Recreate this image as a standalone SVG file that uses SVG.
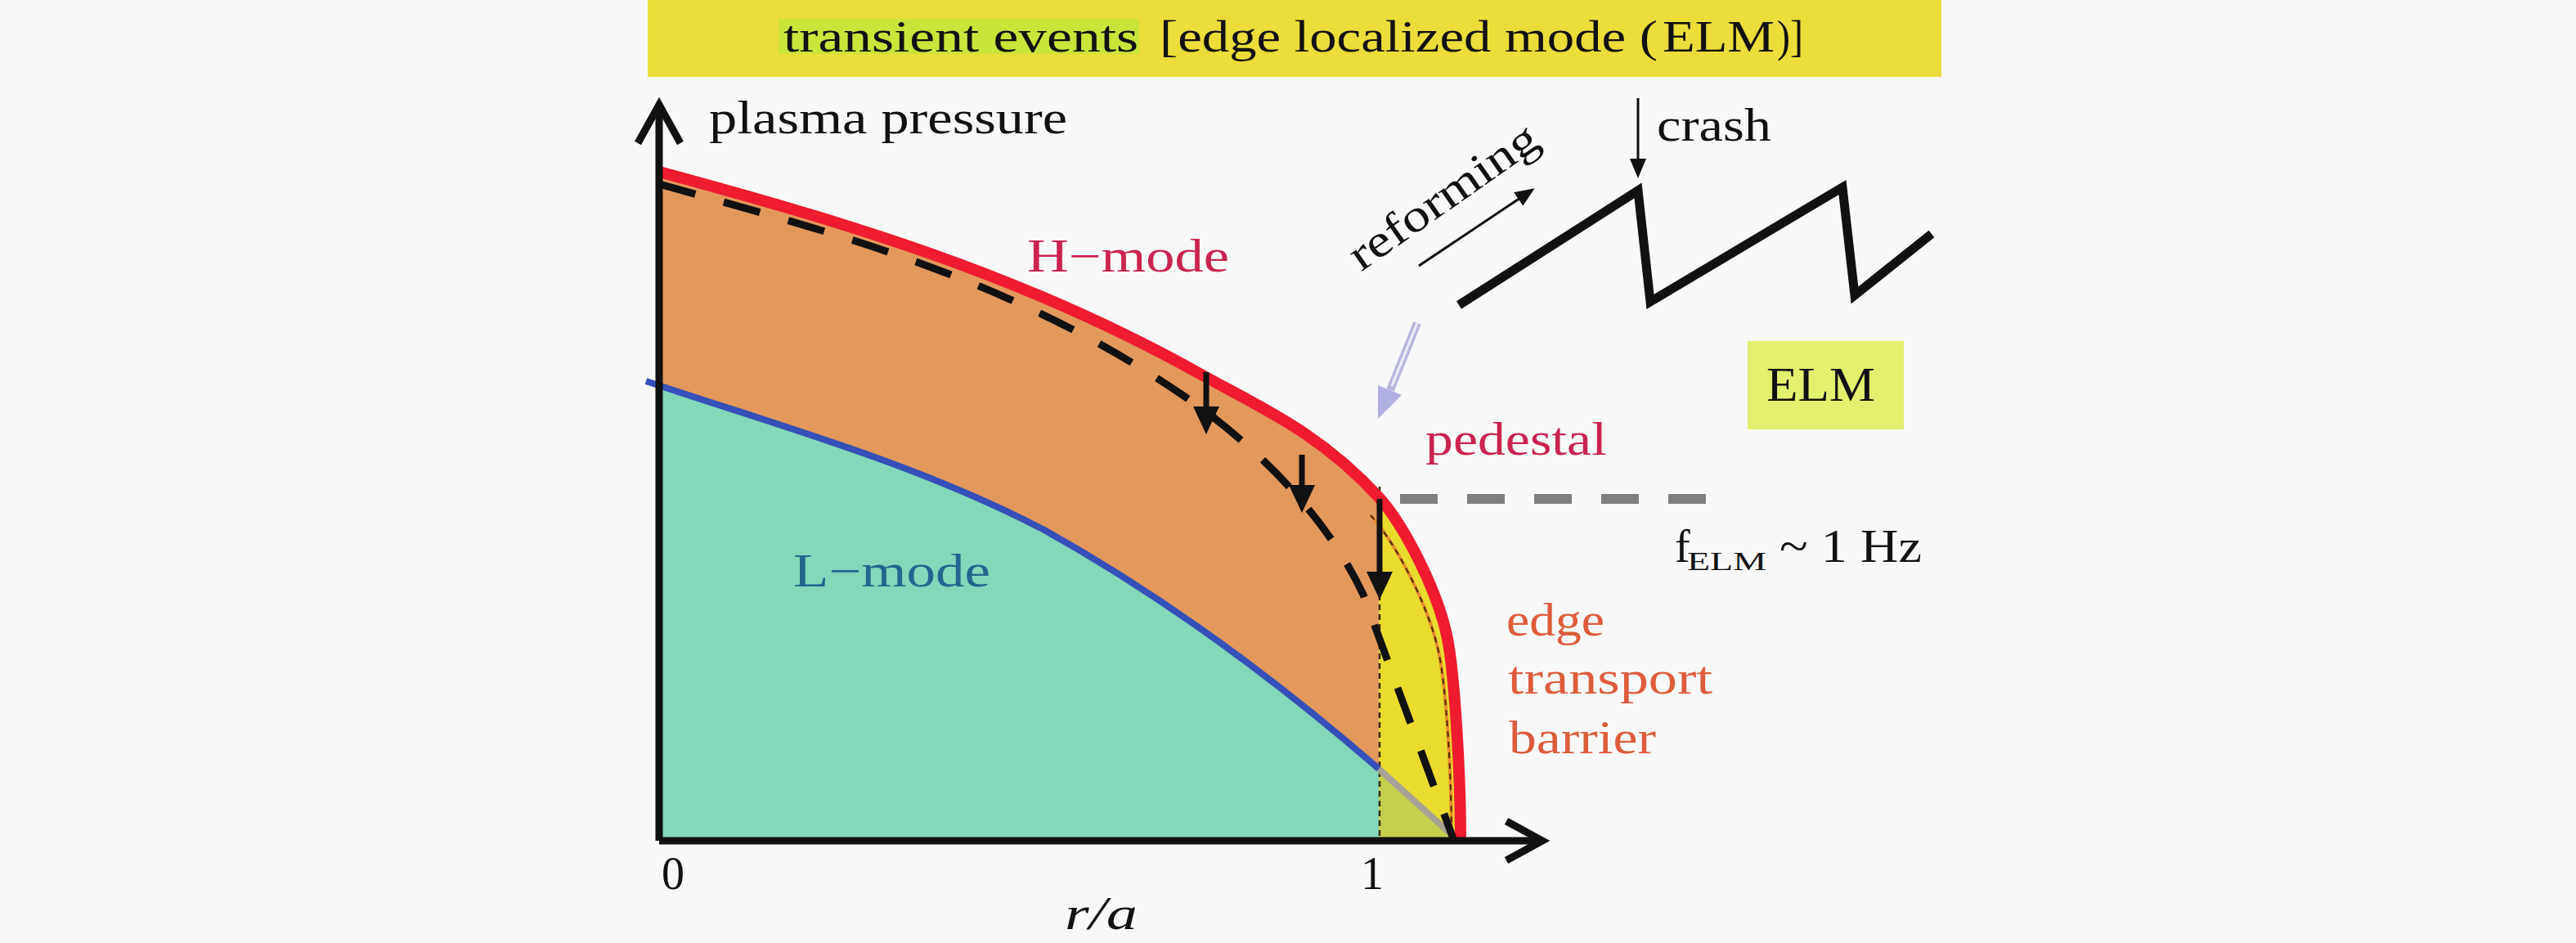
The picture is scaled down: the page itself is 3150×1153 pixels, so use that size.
<svg xmlns="http://www.w3.org/2000/svg" width="3150" height="1153" viewBox="0 0 3150 1153">
<style>
text{font-family:"Liberation Serif","Times New Roman",serif;font-size:56px;fill:#111}
.ban{font-size:54px}
.hm{fill:#c9244f}
.lm{fill:#23668e}
.etb{fill:#dd5c3c}
</style>
<defs>
<marker id="headBig" viewBox="0 0 34 32" refX="14" refY="16" markerWidth="34" markerHeight="32" markerUnits="userSpaceOnUse" orient="auto">
<path d="M0,0 L34,16 L0,32 Z" fill="#111"/>
</marker>
<marker id="headSmall" viewBox="0 0 24 20" refX="10" refY="10" markerWidth="24" markerHeight="20" markerUnits="userSpaceOnUse" orient="auto">
<path d="M0,0 L24,10 L0,20 Z" fill="#111"/>
</marker>
</defs>
<rect width="3150" height="1153" fill="#f8f8f8"/>

<g id="banner">
<rect x="792" y="0" width="1582" height="94" fill="#ebdd3a"/>
<rect x="952" y="23" width="441" height="43" fill="#c9e53a"/>
<text class="ban" x="958" y="63" textLength="434" lengthAdjust="spacingAndGlyphs" fill="#4d5a26">transient events</text>
<text class="ban" x="1418" y="63" textLength="609" lengthAdjust="spacingAndGlyphs" fill="#6a4c14">[edge localized mode (</text>
<text class="ban" x="2033" y="63" textLength="137" lengthAdjust="spacingAndGlyphs" fill="#d42a22">ELM</text>
<text class="ban" x="2173" y="63" textLength="32" lengthAdjust="spacingAndGlyphs" fill="#6a4c14">)]</text>
</g>

<g id="regions">
<path id="orange-region" d="M806,210 C1027,270 1248,334 1469,458 C1541,498 1614,529 1686,608 C1716,641 1758,721 1770,781 C1778,821 1786,940 1786,1028 L806,1028 Z" fill="#e3985c"/>
<path id="yellow-region" d="M1686,608 C1716,641 1758,721 1770,781 C1778,821 1786,940 1786,1028 L1686,1028 Z" fill="#e9dc2e"/>
<path id="teal-region" d="M790,466 C950,520 1120,566 1277,648 C1413,724 1550,822 1686,940 L1686,1028 L806,1028 L806,472 Z" fill="#82d8b9"/>
<path id="olive-region" d="M1686,940 L1782,1028 L1686,1028 Z" fill="#c5cf4e"/>
<path d="M1676,630 C1706,663 1748,741 1760,801 C1768,841 1775,940 1775,1028" fill="none" stroke="#e88a2a" stroke-width="4"/>
<path d="M1676,630 C1706,663 1748,741 1760,801 C1768,841 1775,940 1775,1028" fill="none" stroke="#4a2a08" stroke-width="2" stroke-dasharray="7 6"/>
<line x1="1687" y1="595" x2="1687" y2="1028" stroke="#3a2a08" stroke-width="2.5" stroke-dasharray="7 5"/>
<line x1="1686" y1="1028" x2="1782" y2="1028" stroke="#3a2a08" stroke-width="3" stroke-dasharray="6 4"/>
</g>

<g id="curves">
<line id="blue-tail" x1="1686" y1="940" x2="1780" y2="1025" stroke="#a6a394" stroke-width="8"/>
<path id="L-mode-curve" d="M790,466 C950,520 1120,566 1277,648 C1413,724 1550,822 1686,940" fill="none" stroke="#3550b8" stroke-width="8"/>
<path id="H-mode-curve" d="M806,210 C1027,270 1248,334 1469,458 C1541,498 1614,529 1686,608 C1716,641 1758,721 1770,781 C1778,821 1786,940 1786,1028" fill="none" stroke="#ee1c2e" stroke-width="14"/>
<path id="ELM-curve" d="M806,225 C1019,285 1233,338 1446,483 C1520,533 1617,620 1667,727 L1778,1028" fill="none" stroke="#111" stroke-width="9" stroke-dasharray="46 36"/>
</g>

<g id="connectors">
<line x1="1475" y1="455" x2="1475" y2="511" stroke="#111" stroke-width="7" marker-end="url(#headBig)"/>
<line x1="1592" y1="556" x2="1592" y2="607" stroke="#111" stroke-width="7" marker-end="url(#headBig)"/>
<line x1="1687" y1="610" x2="1687" y2="713" stroke="#111" stroke-width="7" marker-end="url(#headBig)"/>
<line x1="2003" y1="120" x2="2003" y2="204" stroke="#111" stroke-width="3" marker-end="url(#headSmall)"/>
<line x1="1735" y1="325" x2="1865" y2="238" stroke="#111" stroke-width="3" marker-end="url(#headSmall)"/>
<g id="lavender-arrow">
<line x1="1733" y1="395" x2="1700" y2="477" stroke="#b8b8de" stroke-width="10"/>
<line x1="1733" y1="395" x2="1702" y2="472" stroke="#eeeef4" stroke-width="3"/>
<polygon points="1685,512 1714,483 1685,471" fill="#b0b0e0"/>
</g>
<line id="pedestal-level" x1="1712" y1="610" x2="2092" y2="610" stroke="#7f7f7f" stroke-width="12" stroke-dasharray="46 36"/>
</g>

<g id="sawtooth">
<polyline points="1784,373 2003,233 2018,369 2253,229 2268,361 2362,286" fill="none" stroke="#111" stroke-width="11" stroke-linejoin="miter"/>
</g>

<g id="axes" fill="none" stroke="#111" stroke-width="9">
<line x1="806" y1="1028" x2="806" y2="128"/>
<polyline points="780,175 806,128 832,175" stroke-linejoin="miter"/>
<line x1="806" y1="1028" x2="1886" y2="1028"/>
<polyline points="1842,1004 1886,1028 1842,1052" stroke-linejoin="miter"/>
</g>

<g id="labels">
<text x="867" y="163" textLength="438" lengthAdjust="spacingAndGlyphs">plasma pressure</text>
<text class="hm" x="1256" y="332" textLength="247" lengthAdjust="spacingAndGlyphs">H−mode</text>
<text class="lm" x="970" y="717" textLength="241" lengthAdjust="spacingAndGlyphs">L−mode</text>
<text class="hm" x="1743" y="556" textLength="222" lengthAdjust="spacingAndGlyphs">pedestal</text>
<text class="etb" x="1842" y="777" textLength="120" lengthAdjust="spacingAndGlyphs">edge</text>
<text class="etb" x="1844" y="848" textLength="250" lengthAdjust="spacingAndGlyphs">transport</text>
<text class="etb" x="1845" y="921" textLength="180" lengthAdjust="spacingAndGlyphs">barrier</text>
<text x="2026" y="172" textLength="140" lengthAdjust="spacingAndGlyphs">crash</text>
<text transform="translate(1775,255) rotate(-35)" text-anchor="middle" textLength="270" lengthAdjust="spacingAndGlyphs">reforming</text>
<text x="2048" y="687">f</text>
<text x="2063" y="697" textLength="97" lengthAdjust="spacingAndGlyphs" style="font-size:32px">ELM</text>
<text x="2176" y="687" textLength="174" lengthAdjust="spacingAndGlyphs">~ 1 Hz</text>
<text x="809" y="1087">0</text>
<text x="1664" y="1087">1</text>
<text x="1302" y="1136" font-style="italic" textLength="89" lengthAdjust="spacingAndGlyphs">r/a</text>
</g>

<g id="elm-box">
<rect x="2137" y="417" width="191" height="108" fill="#e3ef6e"/>
<text x="2160" y="490" textLength="133" lengthAdjust="spacingAndGlyphs" style="font-size:60px">ELM</text>
</g>
</svg>
